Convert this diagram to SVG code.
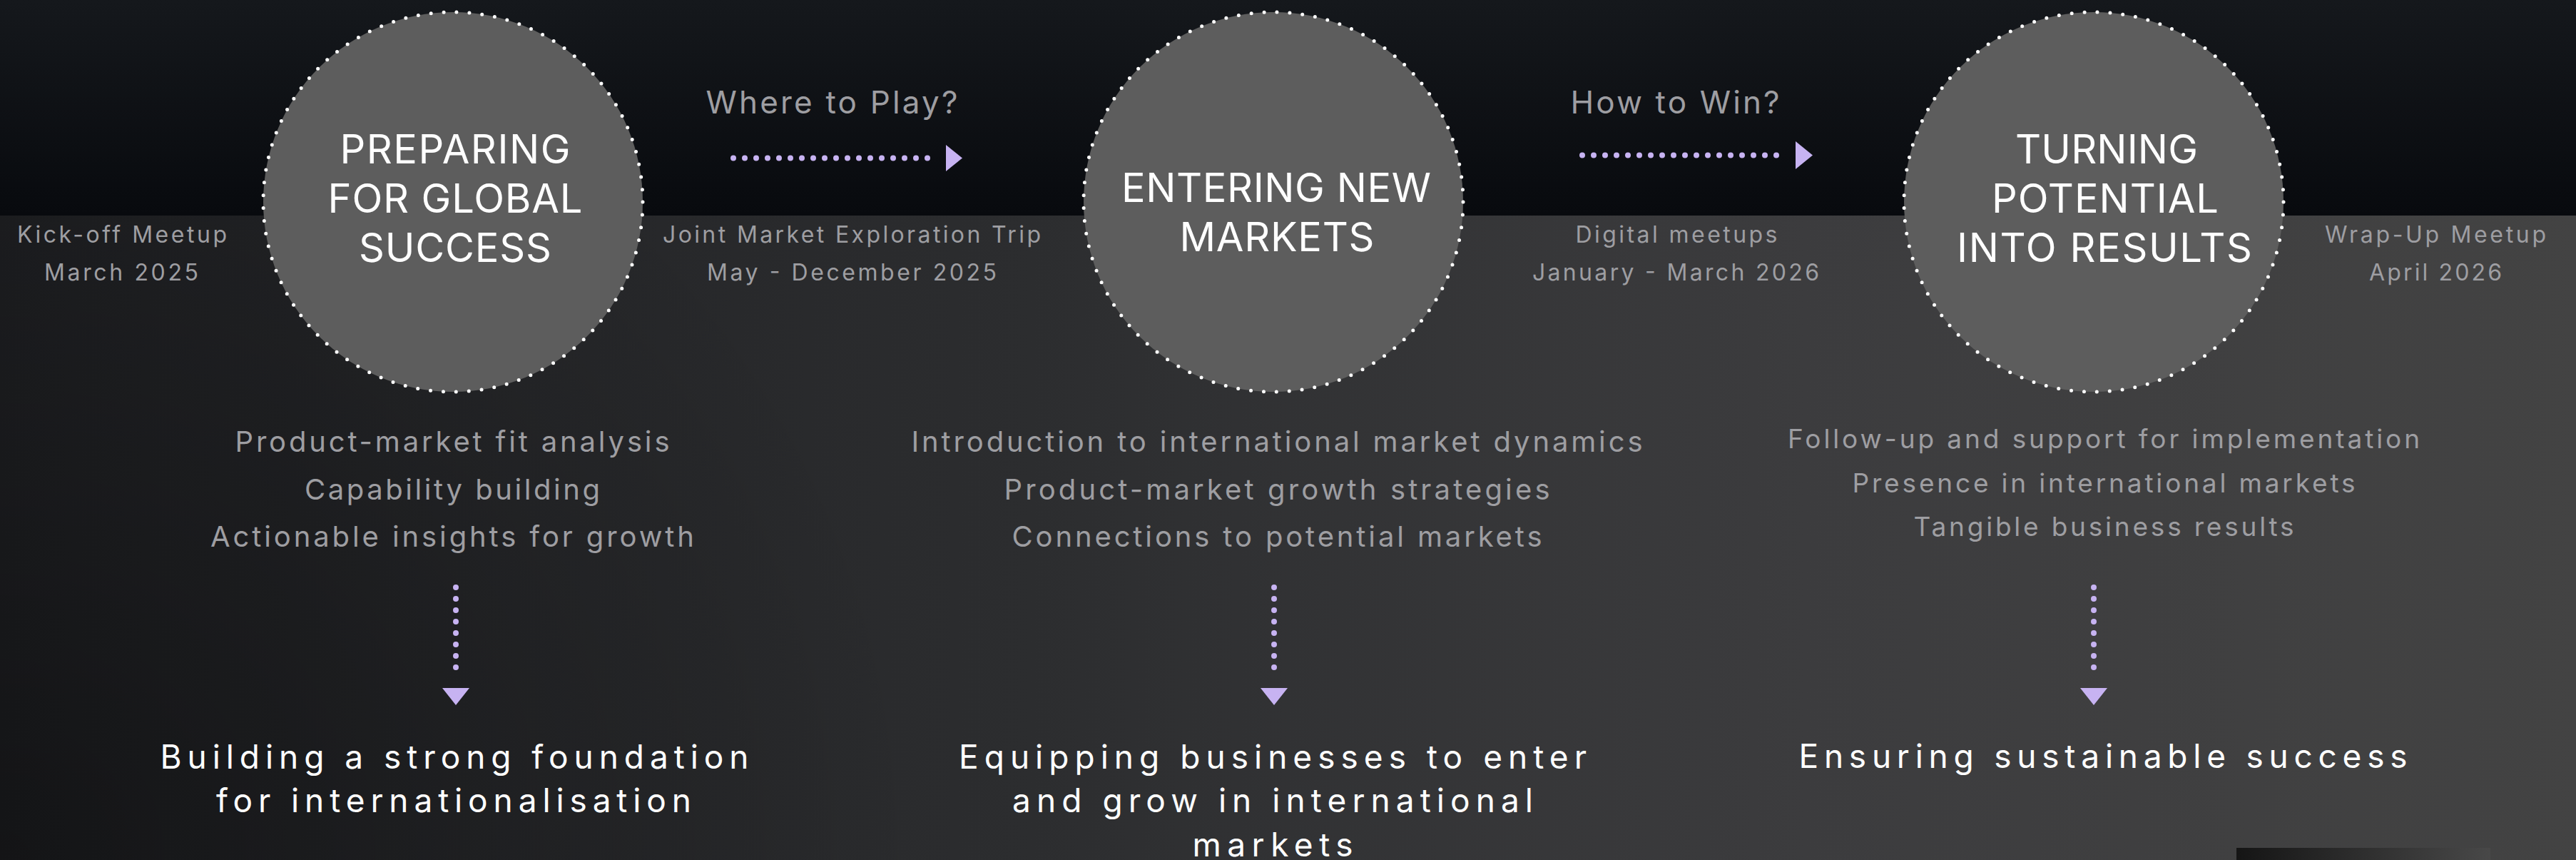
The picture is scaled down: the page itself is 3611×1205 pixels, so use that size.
<svg xmlns="http://www.w3.org/2000/svg" width="3611" height="1205" viewBox="0 0 3611 1205">
  <style>
    text { font-family: Inter, "Noto Sans", "Liberation Sans", sans-serif; font-weight: 400; text-anchor: middle; }
    .title { fill: #ffffff; font-size: 56px; }
    .date { fill: #9e9ea2; font-size: 32px; }
    .q { fill: #9e9ea2; font-size: 44px; }
    .bul { fill: #9e9ea2; font-size: 40px; }
    .bul3 { fill: #9e9ea2; font-size: 37px; }
    .out { fill: #ffffff; font-size: 46px; }
    .ring { fill: #5d5d5d; stroke: #ffffff; stroke-width: 5; stroke-linecap: round; stroke-dasharray: 0 17.971; }
    .dots { stroke: #c7b3f2; stroke-width: 8; stroke-linecap: round; stroke-dasharray: 0 16; fill: none; }
    .head { fill: #c7b3f2; }
  </style>
  <defs>
    <linearGradient id="topBg" x1="0" y1="0" x2="0" y2="1">
      <stop offset="0" stop-color="#15181c"/>
      <stop offset="1" stop-color="#080a0e"/>
    </linearGradient>
    <linearGradient id="lowBg" x1="0" y1="0" x2="1" y2="0">
      <stop offset="0" stop-color="#1e1f22"/>
      <stop offset="0.4" stop-color="#2c2d2f"/>
      <stop offset="0.7" stop-color="#3c3c3e"/>
      <stop offset="1" stop-color="#434343"/>
    </linearGradient>
    <radialGradient id="shade" gradientUnits="userSpaceOnUse" cx="0" cy="1205" r="1300">
      <stop offset="0" stop-color="#000000" stop-opacity="0.35"/>
      <stop offset="1" stop-color="#000000" stop-opacity="0"/>
    </radialGradient>
    <linearGradient id="barBg" x1="0" y1="0" x2="1" y2="0">
      <stop offset="0" stop-color="#151515"/>
      <stop offset="1" stop-color="#484848"/>
    </linearGradient>
  </defs>

  <g id="background">
    <rect x="0" y="0" width="3611" height="302" fill="url(#topBg)"/>
    <rect x="0" y="302" width="3611" height="903" fill="url(#lowBg)"/>
    <rect x="0" y="302" width="3611" height="903" fill="url(#shade)"/>
    <rect x="3135" y="1188" width="356" height="17" fill="url(#barBg)"/>
  </g>

  <g id="connectors">
    <g id="arrow-h1">
      <line class="dots" x1="1028" y1="221.5" x2="1316" y2="221.5"/>
      <polygon class="head" points="1326,203 1349,221.5 1326,240"/>
    </g>
    <g id="arrow-h2">
      <line class="dots" x1="2218" y1="217.5" x2="2506" y2="217.5"/>
      <polygon class="head" points="2517,198 2541,217.5 2517,237"/>
    </g>
    <g id="arrow-v1">
      <line class="dots" x1="639" y1="823" x2="639" y2="951"/>
      <polygon class="head" points="620,964 658,964 639,988"/>
    </g>
    <g id="arrow-v2">
      <line class="dots" x1="1786" y1="823" x2="1786" y2="951"/>
      <polygon class="head" points="1767,964 1805,964 1786,988"/>
    </g>
    <g id="arrow-v3">
      <line class="dots" x1="2935" y1="823" x2="2935" y2="951"/>
      <polygon class="head" points="2916,964 2954,964 2935,988"/>
    </g>
  </g>

  <g id="phase-1">
    <circle class="ring" cx="635" cy="283" r="266"/>
    <text class="title" x="638" y="229" textLength="323" lengthAdjust="spacing">PREPARING</text>
    <text class="title" x="638" y="298" textLength="357" lengthAdjust="spacing">FOR GLOBAL</text>
    <text class="title" x="638" y="367" textLength="270" lengthAdjust="spacing">SUCCESS</text>
  </g>
  <g id="phase-2">
    <circle class="ring" cx="1785" cy="283" r="266"/>
    <text class="title" x="1789" y="283" textLength="434" lengthAdjust="spacing">ENTERING NEW</text>
    <text class="title" x="1790" y="352" textLength="273" lengthAdjust="spacing">MARKETS</text>
  </g>
  <g id="phase-3">
    <circle class="ring" cx="2935" cy="283" r="266"/>
    <text class="title" x="2953" y="229" textLength="256" lengthAdjust="spacing">TURNING</text>
    <text class="title" x="2951" y="298" textLength="318" lengthAdjust="spacing">POTENTIAL</text>
    <text class="title" x="2950" y="367" textLength="414" lengthAdjust="spacing">INTO RESULTS</text>
  </g>

  <g id="label-kickoff">
    <text class="date" x="171" y="340" textLength="294" lengthAdjust="spacing">Kick-off Meetup</text>
    <text class="date" x="170" y="393" textLength="216" lengthAdjust="spacing">March 2025</text>
  </g>
  <g id="label-trip">
    <text class="date" x="1194" y="340" textLength="530" lengthAdjust="spacing">Joint Market Exploration Trip</text>
    <text class="date" x="1194" y="393" textLength="406" lengthAdjust="spacing">May - December 2025</text>
  </g>
  <g id="label-digital">
    <text class="date" x="2350" y="340" textLength="283" lengthAdjust="spacing">Digital meetups</text>
    <text class="date" x="2349" y="393" textLength="402" lengthAdjust="spacing">January - March 2026</text>
  </g>
  <g id="label-wrapup">
    <text class="date" x="3414" y="340" textLength="310" lengthAdjust="spacing">Wrap-Up Meetup</text>
    <text class="date" x="3414" y="393" textLength="186" lengthAdjust="spacing">April 2026</text>
  </g>

  <g id="question-1">
    <text class="q" x="1166" y="159" textLength="353" lengthAdjust="spacing">Where to Play?</text>
  </g>
  <g id="question-2">
    <text class="q" x="2348" y="159" textLength="293" lengthAdjust="spacing">How to Win?</text>
  </g>

  <g id="bullets-1">
    <text class="bul" x="634" y="633" textLength="609" lengthAdjust="spacing">Product-market fit analysis</text>
    <text class="bul" x="634" y="700" textLength="414" lengthAdjust="spacing">Capability building</text>
    <text class="bul" x="634" y="766" textLength="678" lengthAdjust="spacing">Actionable insights for growth</text>
  </g>
  <g id="bullets-2">
    <text class="bul" x="1790" y="633" textLength="1025" lengthAdjust="spacing">Introduction to international market dynamics</text>
    <text class="bul" x="1790" y="700" textLength="765" lengthAdjust="spacing">Product-market growth strategies</text>
    <text class="bul" x="1790" y="766" textLength="743" lengthAdjust="spacing">Connections to potential markets</text>
  </g>
  <g id="bullets-3">
    <text class="bul3" x="2949" y="628" textLength="886" lengthAdjust="spacing">Follow-up and support for implementation</text>
    <text class="bul3" x="2949" y="690" textLength="705" lengthAdjust="spacing">Presence in international markets</text>
    <text class="bul3" x="2949" y="751" textLength="533" lengthAdjust="spacing">Tangible business results</text>
  </g>

  <g id="outcome-1">
    <text class="out" x="637" y="1077" textLength="825" lengthAdjust="spacing">Building a strong foundation</text>
    <text class="out" x="636" y="1138" textLength="666" lengthAdjust="spacing">for internationalisation</text>
  </g>
  <g id="outcome-2">
    <text class="out" x="1784" y="1077" textLength="880" lengthAdjust="spacing">Equipping businesses to enter</text>
    <text class="out" x="1784" y="1138" textLength="730" lengthAdjust="spacing">and grow in international</text>
    <text class="out" x="1784" y="1200" textLength="225" lengthAdjust="spacing">markets</text>
  </g>
  <g id="outcome-3">
    <text class="out" x="2948" y="1076" textLength="853" lengthAdjust="spacing">Ensuring sustainable success</text>
  </g>
</svg>
